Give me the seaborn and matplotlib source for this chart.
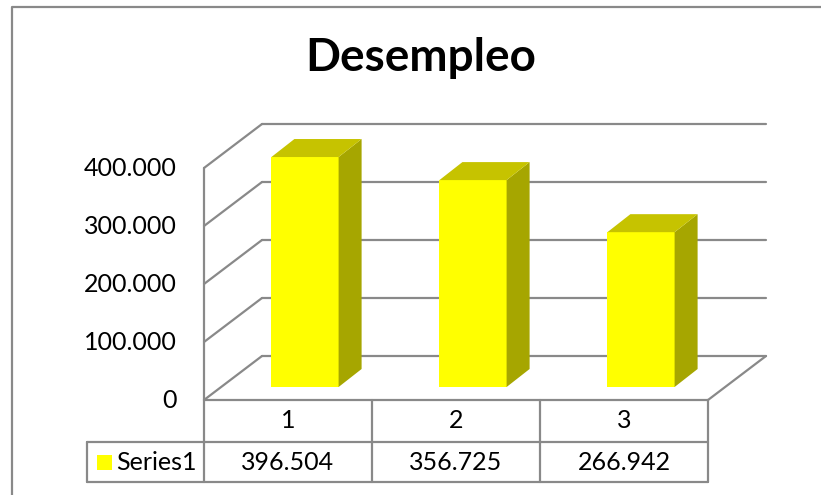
import matplotlib
matplotlib.use("Agg")
import matplotlib.pyplot as plt
import seaborn as sns
from matplotlib.lines import Line2D
from matplotlib.patches import Polygon
from matplotlib.transforms import Affine2D, IdentityTransform

# chart data
categories = ["1", "2", "3"]
values = [396504, 356725, 266942]
value_labels = ["396.504", "356.725", "266.942"]
series_name = "Series1"
title = "Desempleo"
y_ticks = [0, 100000, 200000, 300000, 400000]
y_tick_labels = ["0", "100.000", "200.000", "300.000", "400.000"]

sns.set_style("white")
plt.rcParams["font.family"] = ["Lato", "DejaVu Sans"]
plt.rcParams["text.color"] = "black"

W, H = 821, 495
fig = plt.figure(figsize=(W / 100, H / 100), dpi=100)
ax = fig.add_axes([204 / W, 95 / H, 504 / W, 232 / H])

grid_col = "#898989"
front_col = "#ffff00"
top_col = "#c6c300"
side_col = "#a6a600"

# pseudo 3D offsets in pixels (display coords)
bar_front = (17, 13)
bar_depth = (23, 18)
wall_back = (58, 44)

sns.barplot(x=categories, y=values, color=front_col, width=0.4,
            saturation=1, ax=ax, zorder=5)
ax.set_xlim(-0.5, 2.5)
ax.set_ylim(0, 400000)
ax.axis("off")

front_tr = ax.transData + Affine2D().translate(*bar_front)
back_tr = ax.transData + Affine2D().translate(*wall_back)
ident = IdentityTransform()

# back wall gridlines and side wall
for v in y_ticks:
    ax.plot([-0.5, 2.5], [v, v], color=grid_col, lw=1.6,
            transform=back_tr, clip_on=False, zorder=1)
    p0 = ax.transData.transform((-0.5, v))
    ax.plot([p0[0], p0[0] + wall_back[0]], [p0[1], p0[1] + wall_back[1]],
            color=grid_col, lw=1.6, transform=ident, clip_on=False, zorder=1)
ax.plot([-0.5, -0.5], [0, 400000], color=grid_col, lw=1.6,
        clip_on=False, zorder=1)
pr = ax.transData.transform((2.5, 0))
ax.plot([pr[0], pr[0] + wall_back[0]], [pr[1], pr[1] + wall_back[1]],
        color=grid_col, lw=1.6, transform=ident, clip_on=False, zorder=1)

# y labels at the front edge
for v, lab in zip(y_ticks, y_tick_labels):
    ax.text(-0.5, v, lab, ha="right", va="center", fontsize=18,
            transform=ax.transData + Affine2D().translate(-27, 0))

# bars: front faces from seaborn, then side and top faces
dx, dy = bar_depth
for patch, v in zip(ax.patches, values):
    patch.set_transform(front_tr)
    patch.set_edgecolor("none")
    patch.set_clip_on(False)
    x0 = patch.get_x()
    x1 = x0 + patch.get_width()
    a = front_tr.transform((x1, 0))
    b = front_tr.transform((x1, v))
    c = front_tr.transform((x0, v))
    side = Polygon([a, b, (b[0] + dx, b[1] + dy), (a[0] + dx, a[1] + dy)],
                   closed=True, facecolor=side_col, edgecolor="none",
                   transform=ident, zorder=4)
    top = Polygon([c, b, (b[0] + dx, b[1] + dy), (c[0] + dx, c[1] + dy)],
                  closed=True, facecolor=top_col, edgecolor="none",
                  transform=ident, zorder=4)
    fig.add_artist(side)
    fig.add_artist(top)

# data table under the floor
xt = ax.get_xaxis_transform()
row1, row2 = -42 / 232, -82 / 232
left_edge = -0.5 - 117 / 168
tk = dict(color=grid_col, lw=1.6, transform=xt, clip_on=False, zorder=2)
ax.plot([-0.5, 2.5], [0, 0], **tk)
ax.plot([left_edge, 2.5], [row1, row1], **tk)
ax.plot([left_edge, 2.5], [row2, row2], **tk)
ax.plot([left_edge, left_edge], [row1, row2], **tk)
for xe in [-0.5, 0.5, 1.5, 2.5]:
    ax.plot([xe, xe], [0, row2], **tk)
for i, (cat, lab) in enumerate(zip(categories, value_labels)):
    ax.text(i, row1 / 2, cat, ha="center", va="center", fontsize=18,
            transform=xt)
    ax.text(i, (row1 + row2) / 2, lab, ha="center", va="center",
            fontsize=18, transform=xt)
ax.text(-0.5 - 88 / 168, (row1 + row2) / 2, series_name, ha="left",
        va="center", fontsize=18, transform=xt)
key = ax.transData.transform((-0.5 - 107 / 168, 0))[0]
kb = ax.transAxes.transform((0, (row1 + row2) / 2))[1]
fig.add_artist(Polygon([(key, kb - 7.5), (key + 15, kb - 7.5),
                        (key + 15, kb + 7.5), (key, kb + 7.5)],
                       closed=True, facecolor=front_col, edgecolor="none",
                       transform=ident))

fig.text(0.512, 1 - 58 / H, title, ha="center", va="center",
         fontsize=33, fontweight="bold")

# chart area frame (left and top edges visible)
fig.add_artist(Line2D([12 / W, 12 / W, 1.02], [-0.02, 1 - 7 / H, 1 - 7 / H],
                      color=grid_col, lw=1.6, transform=fig.transFigure))

fig.savefig("out.png", dpi=100)
